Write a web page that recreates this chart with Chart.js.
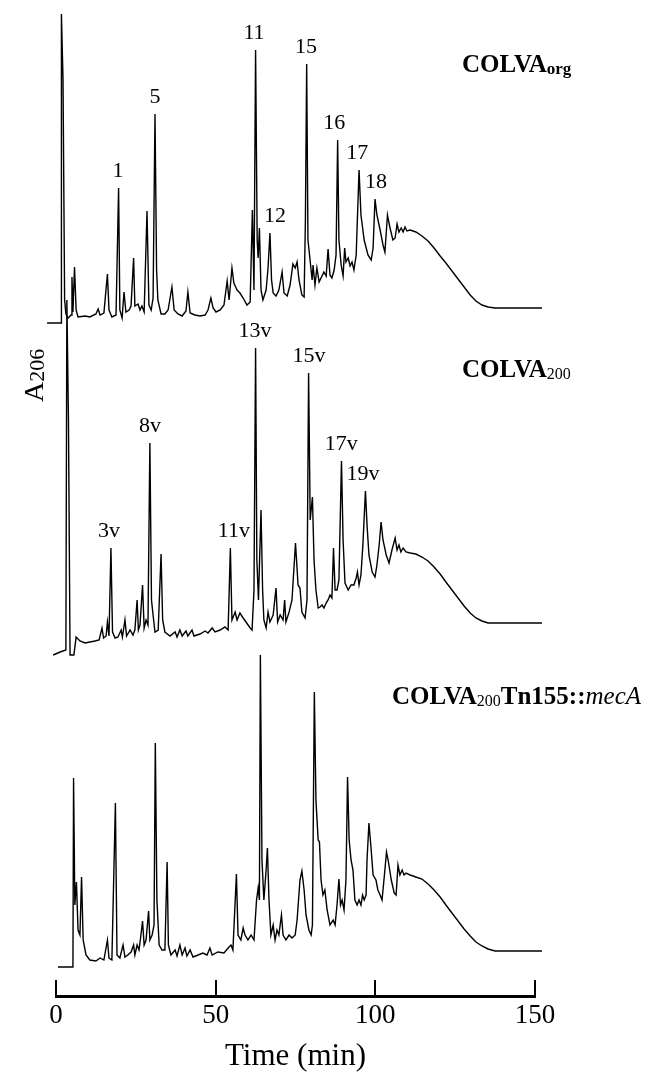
<!DOCTYPE html>
<html>
<head>
<meta charset="utf-8">
<script src="https://cdn.jsdelivr.net/npm/chart.js@4.4.0/dist/chart.umd.min.js"></script>
<style>
html, body { margin: 0; padding: 0; background: #fff; }
canvas { display: block; }
</style>
</head>
<body>
<canvas id="chart" width="645" height="1072"></canvas>
<script>
// HPLC traces: [time (min), A206 above the run's own baseline (arb. units)]
var colvaOrg = [[-2.8,0],[1.6,0],[1.7,309],[2.2,243],[2.7,23],[3.1,9],[3.8,5],[4.7,8],[5.0,46],[5.3,11],[5.8,56],[6.3,13],[6.9,6],
  [9.1,7],[10.6,6],[12.5,9],[13.2,14],[13.8,8],[15.0,10],[16.1,49],[16.6,13],[17.5,6],[18.8,8],[19.6,135],[20.0,13],[20.7,5],
  [21.3,31],[21.9,11],[22.9,13],[23.5,17],[24.3,65],[24.7,17],[25.7,19],[26.3,13],[26.9,17],[27.6,11],[28.5,112],[29.1,18],
  [29.8,13],[30.4,25],[31.0,209],[31.5,53],[31.9,23],[32.9,9],[34.1,9],[35.1,13],[36.3,36],[37.0,13],[38.2,9],[39.5,7],
  [40.7,12],[41.3,31],[42.0,10],[43.5,8],[45.1,7],[46.7,8],[47.6,13],[48.5,25],[49.2,15],[50.1,11],[51.4,13],[52.6,18],
  [53.6,42],[54.2,23],[55.1,55],[55.7,40],[56.7,33],[57.6,30],[58.6,25],[59.8,18],[60.8,21],[61.5,113],[62.0,33],[62.5,273],
  [63.0,83],[63.3,65],[63.7,95],[64.2,33],[64.8,23],[65.8,33],[66.4,55],[67.0,90],[67.5,43],[68.0,30],[68.9,27],[69.8,33],
  [70.8,51],[71.4,30],[72.4,27],[73.3,38],[74.2,59],[74.9,55],[75.5,61],[76.1,43],[77.0,28],[77.7,26],[78.1,103],[78.5,259],
  [78.9,83],[79.5,65],[80.2,43],[80.5,58],[81.1,38],[81.7,55],[82.4,41],[83.0,45],[83.9,51],[84.6,47],[85.2,74],[85.8,48],
  [86.4,45],[87.1,53],[87.7,68],[88.2,183],[88.6,83],[89.3,58],[89.9,47],[90.4,75],[90.8,61],[91.5,65],[92.1,57],[92.7,61],
  [93.3,53],[94.0,68],[94.9,153],[95.5,108],[96.5,83],[97.7,68],[98.7,63],[99.3,75],[99.9,124],[100.5,108],[101.5,93],
  [102.4,78],[103.0,71],[103.8,108],[104.6,95],[105.5,83],[106.2,85],[106.8,99],[107.4,91],[108.1,95],[108.7,91],[109.3,96],
  [109.9,92],[110.9,93],[112.7,91],[114.6,87],[116.5,82],[118.4,75],[120.3,67],[122.1,60],[124.0,52],[125.9,44],[127.8,36],
  [129.7,28],[131.5,22],[133.4,18],[135.3,16],[137.5,15],[152.2,15]];

var colva200 = [[-0.9,0],[1.3,3],[3.1,5],[3.4,355],[3.9,235],[4.4,0],[5.6,0],[6.3,18],[7.5,14],[9.1,12],[10.6,13],[12.2,14],
  [13.5,15],[14.4,27],[14.9,17],[15.7,19],[16.1,33],[16.6,19],[17.2,107],[17.7,23],[18.5,17],[19.4,18],[20.4,25],[20.8,18],
  [21.6,35],[22.1,19],[23.2,25],[24.1,20],[24.7,25],[25.4,55],[25.8,25],[26.3,30],[27.1,70],[27.6,27],[28.2,35],[28.8,30],
  [29.4,212],[29.9,55],[30.4,40],[31.0,23],[32.0,25],[32.9,101],[33.4,35],[34.1,23],[35.7,19],[37.3,23],[37.9,18],[38.8,25],
  [39.5,19],[40.7,24],[41.3,19],[42.6,25],[43.2,19],[45.1,21],[46.7,24],[47.6,22],[48.9,27],[49.8,23],[51.4,25],[52.9,28],
  [53.9,25],[54.6,107],[55.1,35],[56.1,43],[56.7,35],[57.6,42],[58.6,37],[59.5,33],[60.8,27],[61.4,25],[62.0,65],[62.5,307],
  [62.9,95],[63.4,55],[64.2,145],[64.7,65],[65.1,35],[65.8,27],[66.4,43],[67.0,33],[68.0,40],[68.9,67],[69.4,33],[70.2,40],
  [71.1,35],[71.6,55],[72.0,33],[73.0,43],[73.9,55],[75.0,112],[75.8,70],[76.4,67],[77.0,43],[78.0,37],[78.6,55],[79.1,282],
  [79.6,135],[80.3,158],[80.8,95],[81.4,65],[82.1,47],[82.7,48],[83.3,50],[83.9,47],[84.6,52],[85.2,55],[85.8,60],[86.4,57],
  [86.9,107],[87.4,65],[88.0,65],[88.6,75],[89.4,194],[89.9,115],[90.5,72],[91.5,65],[92.4,70],[93.3,70],[94.0,77],[94.4,83],
  [94.9,70],[95.5,80],[96.1,110],[96.9,164],[97.4,130],[98.0,100],[99.0,83],[99.9,78],[100.5,90],[101.2,110],[101.8,133],
  [102.4,115],[103.4,100],[104.3,92],[105.2,105],[106.2,117],[106.8,105],[107.4,110],[108.0,103],[108.7,107],[109.6,103],
  [110.9,102],[112.7,101],[114.6,98],[116.5,94],[118.4,88],[120.3,81],[122.1,73],[124.0,65],[125.9,57],[127.8,49],[129.7,42],
  [131.5,37],[133.4,34],[135.3,32],[137.5,32],[152.2,32]];

var colvaMecA = [[0.6,1],[5.3,1],[5.5,190],[5.9,63],[6.4,86],[6.9,38],[7.5,33],[8.0,91],[8.5,28],[9.4,13],[10.6,8],[12.5,7],
  [13.8,10],[15.0,8],[16.1,28],[16.6,10],[17.5,8],[18.6,165],[19.1,13],[20.0,10],[21.0,23],[21.6,11],[22.5,13],[23.5,16],
  [24.3,23],[24.7,13],[25.4,23],[26.0,18],[26.6,33],[27.1,47],[27.6,23],[28.2,28],[29.0,57],[29.4,28],[30.1,33],[30.7,43],
  [31.1,225],[31.6,68],[32.3,23],[33.2,18],[34.1,18],[34.8,106],[35.2,23],[36.0,13],[37.3,18],[37.9,12],[38.8,23],[39.5,13],
  [40.4,20],[41.0,12],[42.0,18],[42.9,11],[44.5,13],[46.0,15],[47.3,13],[48.2,20],[48.9,13],[50.7,16],[52.6,15],[53.9,20],
  [54.8,23],[55.4,18],[56.5,94],[57.0,33],[57.9,28],[58.6,40],[59.2,33],[60.1,28],[61.1,33],[62.0,28],[62.8,68],[63.3,80],
  [63.7,68],[64.0,313],[64.5,108],[65.1,68],[65.8,98],[66.2,120],[66.7,68],[67.3,33],[68.0,43],[68.6,28],[69.2,38],[69.8,33],
  [70.6,53],[71.1,33],[72.0,28],[73.0,33],[73.9,30],[74.9,33],[75.5,48],[76.4,88],[77.0,97],[77.7,78],[78.3,53],[79.2,38],
  [79.9,33],[80.3,43],[80.9,276],[81.4,168],[82.1,128],[82.5,126],[83.0,88],[83.6,73],[84.2,78],[84.9,58],[85.8,43],[86.8,48],
  [87.4,43],[88.0,63],[88.6,89],[89.1,63],[89.6,68],[90.2,58],[90.8,88],[91.3,191],[91.8,128],[92.4,108],[93.0,98],[93.6,68],
  [94.3,63],[94.9,68],[95.5,63],[96.0,73],[96.5,68],[97.1,73],[97.4,108],[98.0,145],[98.7,118],[99.3,93],[100.2,88],[100.8,78],
  [101.5,73],[102.1,68],[102.7,88],[103.5,116],[104.0,108],[105.0,88],[105.9,75],[106.5,73],[107.1,103],[107.7,93],[108.4,98],
  [109.0,93],[109.6,95],[110.9,93],[112.7,91],[114.6,89],[116.5,84],[118.4,78],[120.3,71],[122.1,63],[124.0,55],[125.9,47],
  [127.8,39],[129.7,32],[131.5,26],[133.4,22],[135.3,19],[137.5,17],[152.2,17]];

var traces = [colvaOrg, colva200, colvaMecA];
var traceOffsets = [673, 341, 28];   // vertical stacking of the three runs
var timeTicks = [0, 50, 100, 150];

var peakNames = [['1', '5', '11', '12', '15', '16', '17', '18'],
                 ['3v', '8v', '11v', '13v', '15v', '17v', '19v'],
                 []];
var peakTimes = [[19.6, 31.0, 62.5, 67.0, 78.5, 88.2, 94.9, 99.9],
                 [17.2, 29.4, 54.6, 62.5, 79.1, 89.4, 96.9],
                 []];
var peakLabelTimes = [[19.4, 31.0, 62.0, 68.6, 78.3, 87.1, 94.3, 100.2],
                      [16.6, 29.4, 55.7, 62.3, 79.2, 89.3, 96.1],
                      []];

var SERIF = '"Liberation Serif", "Times New Roman", serif';

function peakTop(trace, t) {
  var best = 0;
  trace.forEach(function (p) {
    if (Math.abs(p[0] - t) < 0.35 && p[1] > best) best = p[1];
  });
  return best;
}

function drawRuns(ctx, runs, x, y) {
  runs.forEach(function (r) {
    ctx.font = r[1] + ' ' + SERIF;
    ctx.fillText(r[0], x, y + (r[2] || 0));
    x += ctx.measureText(r[0]).width;
  });
}

var annotations = {
  id: 'annotations',
  afterDatasetsDraw: function (chart) {
    var ctx = chart.ctx, xs = chart.scales.x, ys = chart.scales.y;
    ctx.save();
    ctx.fillStyle = '#000';
    ctx.textAlign = 'center';
    ctx.textBaseline = 'middle';
    ctx.font = '22px ' + SERIF;
    for (var i = 0; i < traces.length; i++) {
      for (var j = 0; j < peakNames[i].length; j++) {
        var top = peakTop(traces[i], peakTimes[i][j]) + traceOffsets[i];
        ctx.fillText(peakNames[i][j], xs.getPixelForValue(peakLabelTimes[i][j]), ys.getPixelForValue(top) - 17);
      }
    }

    ctx.textAlign = 'left';
    ctx.textBaseline = 'alphabetic';
    drawRuns(ctx, [['COLVA', 'bold 25px'], ['org', 'bold 17px', 2]], 462, 72);
    drawRuns(ctx, [['COLVA', 'bold 25px'], ['200', '16px', 2]], 462, 377);
    drawRuns(ctx, [['COLVA', 'bold 25px'], ['200', '16px', 2], ['Tn155::', 'bold 25px'], ['mecA', 'italic 25px']], 392, 704);

    // y axis label
    ctx.translate(43, 402);
    ctx.rotate(-Math.PI / 2);
    drawRuns(ctx, [['A', '28px'], ['206', '22px', 1]], 0, 0);
    ctx.restore();
  }
};

new Chart('chart', {
  type: 'line',
  data: {
    datasets: traces.map(function (tr, i) {
      return {
        data: tr.map(function (p) { return { x: p[0], y: p[1] + traceOffsets[i] }; }),
        borderColor: '#000',
        borderWidth: 1.4,
        pointRadius: 0,
        tension: 0,
        fill: false,
        clip: false
      };
    })
  },
  options: {
    responsive: false,
    animation: false,
    devicePixelRatio: 1,
    layout: { padding: { left: 56, right: 110, top: 0, bottom: 0 } },
    plugins: { legend: { display: false }, tooltip: { enabled: false } },
    scales: {
      x: {
        type: 'linear',
        min: 0,
        max: 150,
        afterBuildTicks: function (scale) {
          scale.ticks = timeTicks.map(function (v) { return { value: v }; });
        },
        afterFit: function (scale) { scale.height = 76; },
        border: { display: true, color: '#000', width: 3 },
        grid: { drawOnChartArea: false, drawTicks: true, tickLength: -16, color: '#000', lineWidth: 2 },
        ticks: { color: '#000', padding: 20, maxRotation: 0, font: { family: SERIF, size: 27 } },
        title: {
          display: true,
          text: 'Time (min)',
          color: '#000',
          padding: 0,
          font: { family: SERIF, size: 31, lineHeight: 1 }
        }
      },
      y: { display: false, min: 0, max: 996 }
    }
  },
  plugins: [annotations]
});
</script>
</body>
</html>
